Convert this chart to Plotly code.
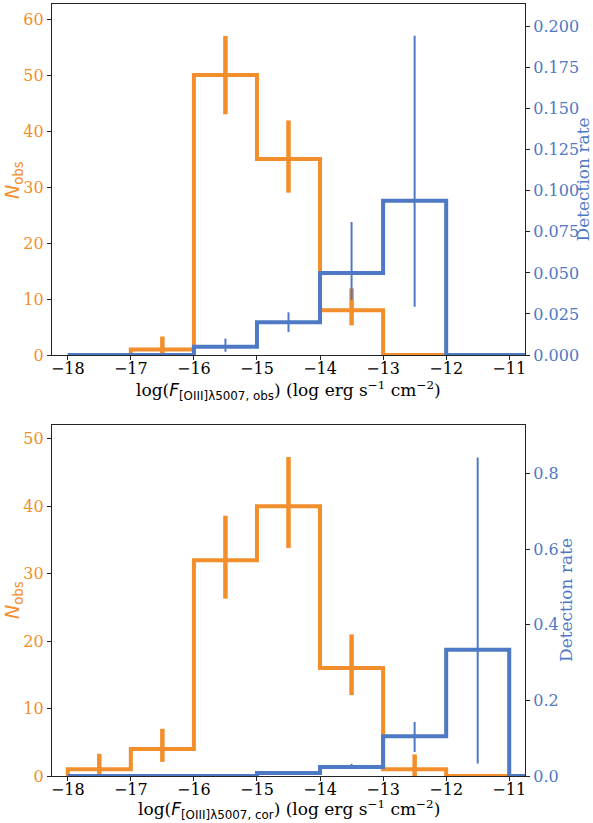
import plotly.graph_objects as go

# ---- data ----
bin_edges = [-18, -17, -16, -15, -14, -13, -12, -11]
bin_centers = [-17.5, -16.5, -15.5, -14.5, -13.5, -12.5, -11.5]
x_ticks = [-18, -17, -16, -15, -14, -13, -12, -11]

# top panel (observed flux)
n_obs_top = [0, 1, 50, 35, 8, 0, 0]
n_err_hi_top = [0, 2.3, 7.0, 6.9, 3.9, 0, 0]
n_err_lo_top = [0, 1.0, 7.0, 6.0, 2.7, 0, 0]
rate_top = [0, 0, 0.005, 0.020, 0.050, 0.094, 0]
rate_err_hi_top = [0, 0, 0.005, 0.006, 0.031, 0.1005, 0]
rate_err_lo_top = [0, 0, 0.003, 0.006, 0.0165, 0.0646, 0]

# bottom panel (corrected flux)
n_obs_bot = [1, 4, 32, 40, 16, 1, 0]
n_err_hi_bot = [2.3, 3.0, 6.6, 7.3, 5.0, 2.2, 0]
n_err_lo_bot = [1.0, 1.9, 5.7, 6.2, 4.0, 1.0, 0]
rate_bot = [0, 0, 0, 0.008, 0.024, 0.105, 0.334]
rate_err_hi_bot = [0, 0, 0, 0.003, 0.008, 0.038, 0.508]
rate_err_lo_bot = [0, 0, 0, 0.003, 0.005, 0.0415, 0.301]

ORANGE = "#F28E2B"
BLUE = "#4E79C4"
SERIF = "DejaVu Serif"
SANS = "DejaVu Sans"
W, H = 593, 823


def step_xy(edges, vals, ext=0.5):
    xs = [edges[0]]
    ys = [0]
    for i, v in enumerate(vals):
        xs += [edges[i], edges[i + 1]]
        ys += [v, v]
    xs += [edges[-1], edges[-1] + ext]
    ys += [0, 0]
    return xs, ys


def nz(vals, *arrs):
    idx = [i for i, v in enumerate(vals) if v > 0]
    return [[a[i] for i in idx] for a in arrs]


fig = go.Figure()


def add_panel(vals, ehi, elo, rate, rhi, rlo, xa, ya, ya2):
    xs, ys = step_xy(bin_edges, vals)
    fig.add_trace(go.Scatter(x=xs, y=ys, mode="lines", line=dict(color=ORANGE, width=4),
                             xaxis=xa, yaxis=ya, showlegend=False, hoverinfo="skip"))
    cx, cy, ch, cl = nz(vals, bin_centers, vals, ehi, elo)
    fig.add_trace(go.Scatter(x=cx, y=cy, mode="markers",
                             marker=dict(size=1, color="rgba(0,0,0,0)"),
                             error_y=dict(type="data", symmetric=False, array=ch, arrayminus=cl,
                                          color=ORANGE, thickness=4.5, width=0),
                             xaxis=xa, yaxis=ya, showlegend=False))
    xs, ys = step_xy(bin_edges, rate)
    fig.add_trace(go.Scatter(x=xs, y=ys, mode="lines", line=dict(color=BLUE, width=4),
                             xaxis=xa, yaxis=ya2, showlegend=False, hoverinfo="skip"))
    cx, cy, ch, cl = nz(rate, bin_centers, rate, rhi, rlo)
    fig.add_trace(go.Scatter(x=cx, y=cy, mode="markers",
                             marker=dict(size=1, color="rgba(0,0,0,0)"),
                             error_y=dict(type="data", symmetric=False, array=ch, arrayminus=cl,
                                          color=BLUE, thickness=2, width=0),
                             xaxis=xa, yaxis=ya2, showlegend=False))


add_panel(n_obs_top, n_err_hi_top, n_err_lo_top, rate_top, rate_err_hi_top, rate_err_lo_top,
          "x", "y", "y2")
add_panel(n_obs_bot, n_err_hi_bot, n_err_lo_bot, rate_bot, rate_err_hi_bot, rate_err_lo_bot,
          "x2", "y3", "y4")

xdom = [52 / W, 525 / W]
ydom_top = [1 - 355 / H, 1 - 4 / H]
ydom_bot = [1 - 776 / H, 1 - 425 / H]

TICK = 16
tickfont = dict(family=SERIF, size=TICK, color="black")
axline = dict(showline=True, linecolor="#222", linewidth=1.2, ticks="outside", ticklen=4,
              tickcolor="#222", showgrid=False, zeroline=False, automargin=False)


def xlabel(tag):
    return ('log(<span style="font-family:\'DejaVu Sans\'"><i>F</i><sub>[OIII]λ5007, ' + tag +
            '</sub></span>) (log erg s<sup>−1</sup> cm<sup>−2</sup>)')


ylab = '<i>N</i><sub>obs</sub>'

fig.update_layout(
    width=W, height=H, margin=dict(l=0, r=0, t=0, b=0),
    paper_bgcolor="white", plot_bgcolor="white", showlegend=False,
    xaxis=dict(domain=xdom, anchor="y", range=[-18.25, -10.75], tickvals=x_ticks,
               tickfont=tickfont, mirror=True, ticklabelstandoff=-5, **axline),
    yaxis=dict(domain=ydom_top, anchor="x", range=[0, 62.7], dtick=10,
               tickfont=dict(family=SERIF, size=TICK, color=ORANGE), **axline),
    yaxis2=dict(domain=ydom_top, anchor="x", overlaying="y", side="right", range=[0, 0.2138],
                tickvals=[0, 0.025, 0.05, 0.075, 0.1, 0.125, 0.15, 0.175, 0.2], tickformat=".3f",
                tickfont=dict(family=SERIF, size=TICK, color=BLUE), **axline),
    xaxis2=dict(domain=xdom, anchor="y3", range=[-18.25, -10.75], tickvals=x_ticks,
                tickfont=tickfont, mirror=True, ticklabelstandoff=-5, **axline),
    yaxis3=dict(domain=ydom_bot, anchor="x2", range=[0, 52.05], dtick=10,
                tickfont=dict(family=SERIF, size=TICK, color=ORANGE), **axline),
    yaxis4=dict(domain=ydom_bot, anchor="x2", overlaying="y3", side="right", range=[0, 0.928],
                tickvals=[0, 0.2, 0.4, 0.6, 0.8], tickformat=".1f",
                tickfont=dict(family=SERIF, size=TICK, color=BLUE), **axline),
)

# axis titles as annotations for exact placement
xc = 288.5 / W
for ycen, tag in [(390, "obs"), (809, "cor")]:
    fig.add_annotation(text=xlabel(tag), xref="paper", yref="paper", x=xc, y=1 - ycen / H,
                       xanchor="center", yanchor="middle", showarrow=False,
                       font=dict(family=SERIF, size=17, color="black"))
for ycen, xr in [(180, 582.5), (600, 566)]:
    fig.add_annotation(text=ylab, xref="paper", yref="paper", x=13 / W, y=1 - ycen / H,
                       xanchor="center", yanchor="middle", showarrow=False, textangle=-90,
                       font=dict(family=SANS, size=19, color=ORANGE))
    fig.add_annotation(text="Detection rate", xref="paper", yref="paper", x=xr / W,
                       y=1 - ycen / H, xanchor="center", yanchor="middle", showarrow=False,
                       textangle=-90, font=dict(family=SERIF, size=17, color=BLUE))

fig.write_html("out.html")
